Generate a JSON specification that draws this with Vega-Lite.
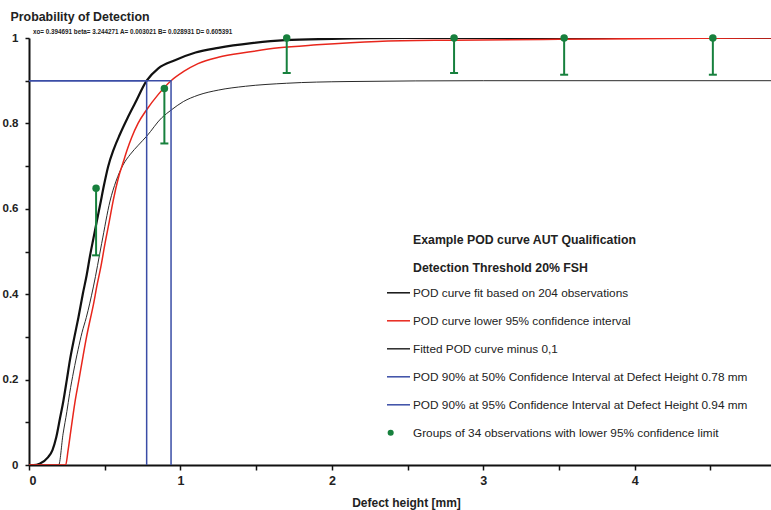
{
  "$schema": "https://vega.github.io/schema/vega-lite/v6.json",
  "width": 742,
  "height": 427,
  "autosize": {"type": "none"},
  "padding": {"left": 29, "top": 38, "right": 0, "bottom": 45},
  "background": "white",
  "title": {
    "text": "xo= 0.394691 beta= 3.244271  A= 0.003021 B= 0.028931 D= 0.605391",
    "anchor": "start", "frame": "group", "dx": 4, "dy": 28, "offset": 3,
    "fontSize": 6.3, "fontWeight": "bold", "font": "Liberation Sans", "color": "#222"
  },
  "datasets": {
    "curves": [
      {"series": "POD curve fit based on 204 observations", "x": 0, "p": 0},
      {"series": "POD curve fit based on 204 observations", "x": 0.03, "p": 0},
      {"series": "POD curve fit based on 204 observations", "x": 0.07, "p": 0.003},
      {"series": "POD curve fit based on 204 observations", "x": 0.125, "p": 0.018},
      {"series": "POD curve fit based on 204 observations", "x": 0.155, "p": 0.035},
      {"series": "POD curve fit based on 204 observations", "x": 0.18, "p": 0.065},
      {"series": "POD curve fit based on 204 observations", "x": 0.205, "p": 0.11},
      {"series": "POD curve fit based on 204 observations", "x": 0.227, "p": 0.15},
      {"series": "POD curve fit based on 204 observations", "x": 0.25, "p": 0.2},
      {"series": "POD curve fit based on 204 observations", "x": 0.27, "p": 0.245},
      {"series": "POD curve fit based on 204 observations", "x": 0.3, "p": 0.3},
      {"series": "POD curve fit based on 204 observations", "x": 0.326, "p": 0.345},
      {"series": "POD curve fit based on 204 observations", "x": 0.355, "p": 0.4},
      {"series": "POD curve fit based on 204 observations", "x": 0.381, "p": 0.445},
      {"series": "POD curve fit based on 204 observations", "x": 0.403, "p": 0.49},
      {"series": "POD curve fit based on 204 observations", "x": 0.425, "p": 0.53},
      {"series": "POD curve fit based on 204 observations", "x": 0.45, "p": 0.575},
      {"series": "POD curve fit based on 204 observations", "x": 0.47, "p": 0.61},
      {"series": "POD curve fit based on 204 observations", "x": 0.495, "p": 0.655},
      {"series": "POD curve fit based on 204 observations", "x": 0.522, "p": 0.698},
      {"series": "POD curve fit based on 204 observations", "x": 0.56, "p": 0.74},
      {"series": "POD curve fit based on 204 observations", "x": 0.6, "p": 0.774},
      {"series": "POD curve fit based on 204 observations", "x": 0.65, "p": 0.812},
      {"series": "POD curve fit based on 204 observations", "x": 0.7, "p": 0.847},
      {"series": "POD curve fit based on 204 observations", "x": 0.777, "p": 0.9},
      {"series": "POD curve fit based on 204 observations", "x": 0.854, "p": 0.929},
      {"series": "POD curve fit based on 204 observations", "x": 0.964, "p": 0.948},
      {"series": "POD curve fit based on 204 observations", "x": 1.1, "p": 0.966},
      {"series": "POD curve fit based on 204 observations", "x": 1.25, "p": 0.977},
      {"series": "POD curve fit based on 204 observations", "x": 1.47, "p": 0.988},
      {"series": "POD curve fit based on 204 observations", "x": 1.69, "p": 0.995},
      {"series": "POD curve fit based on 204 observations", "x": 2.0, "p": 0.998},
      {"series": "POD curve fit based on 204 observations", "x": 2.5, "p": 1.0},
      {"series": "POD curve fit based on 204 observations", "x": 4.9, "p": 1.0},

      {"series": "Fitted POD curve minus 0,1", "x": 0, "p": 0},
      {"series": "Fitted POD curve minus 0,1", "x": 0.196, "p": 0},
      {"series": "Fitted POD curve minus 0,1", "x": 0.225, "p": 0.073},
      {"series": "Fitted POD curve minus 0,1", "x": 0.25, "p": 0.125},
      {"series": "Fitted POD curve minus 0,1", "x": 0.268, "p": 0.167},
      {"series": "Fitted POD curve minus 0,1", "x": 0.295, "p": 0.22},
      {"series": "Fitted POD curve minus 0,1", "x": 0.324, "p": 0.27},
      {"series": "Fitted POD curve minus 0,1", "x": 0.35, "p": 0.31},
      {"series": "Fitted POD curve minus 0,1", "x": 0.378, "p": 0.345},
      {"series": "Fitted POD curve minus 0,1", "x": 0.425, "p": 0.417},
      {"series": "Fitted POD curve minus 0,1", "x": 0.48, "p": 0.519},
      {"series": "Fitted POD curve minus 0,1", "x": 0.535, "p": 0.618},
      {"series": "Fitted POD curve minus 0,1", "x": 0.575, "p": 0.665},
      {"series": "Fitted POD curve minus 0,1", "x": 0.62, "p": 0.702},
      {"series": "Fitted POD curve minus 0,1", "x": 0.67, "p": 0.728},
      {"series": "Fitted POD curve minus 0,1", "x": 0.722, "p": 0.749},
      {"series": "Fitted POD curve minus 0,1", "x": 0.777, "p": 0.77},
      {"series": "Fitted POD curve minus 0,1", "x": 0.876, "p": 0.813},
      {"series": "Fitted POD curve minus 0,1", "x": 0.938, "p": 0.831},
      {"series": "Fitted POD curve minus 0,1", "x": 1.019, "p": 0.851},
      {"series": "Fitted POD curve minus 0,1", "x": 1.116, "p": 0.866},
      {"series": "Fitted POD curve minus 0,1", "x": 1.25, "p": 0.878},
      {"series": "Fitted POD curve minus 0,1", "x": 1.43, "p": 0.887},
      {"series": "Fitted POD curve minus 0,1", "x": 1.7, "p": 0.894},
      {"series": "Fitted POD curve minus 0,1", "x": 2.1, "p": 0.898},
      {"series": "Fitted POD curve minus 0,1", "x": 3.0, "p": 0.9},
      {"series": "Fitted POD curve minus 0,1", "x": 4.9, "p": 0.9},

      {"series": "POD curve lower 95% confidence interval", "x": 0, "p": 0},
      {"series": "POD curve lower 95% confidence interval", "x": 0.242, "p": 0},
      {"series": "POD curve lower 95% confidence interval", "x": 0.258, "p": 0.034},
      {"series": "POD curve lower 95% confidence interval", "x": 0.28, "p": 0.09},
      {"series": "POD curve lower 95% confidence interval", "x": 0.302, "p": 0.144},
      {"series": "POD curve lower 95% confidence interval", "x": 0.33, "p": 0.2},
      {"series": "POD curve lower 95% confidence interval", "x": 0.357, "p": 0.255},
      {"series": "POD curve lower 95% confidence interval", "x": 0.38, "p": 0.3},
      {"series": "POD curve lower 95% confidence interval", "x": 0.403, "p": 0.339},
      {"series": "POD curve lower 95% confidence interval", "x": 0.425, "p": 0.375},
      {"series": "POD curve lower 95% confidence interval", "x": 0.447, "p": 0.417},
      {"series": "POD curve lower 95% confidence interval", "x": 0.475, "p": 0.465},
      {"series": "POD curve lower 95% confidence interval", "x": 0.502, "p": 0.519},
      {"series": "POD curve lower 95% confidence interval", "x": 0.53, "p": 0.57},
      {"series": "POD curve lower 95% confidence interval", "x": 0.557, "p": 0.621},
      {"series": "POD curve lower 95% confidence interval", "x": 0.59, "p": 0.672},
      {"series": "POD curve lower 95% confidence interval", "x": 0.623, "p": 0.71},
      {"series": "POD curve lower 95% confidence interval", "x": 0.65, "p": 0.74},
      {"series": "POD curve lower 95% confidence interval", "x": 0.678, "p": 0.767},
      {"series": "POD curve lower 95% confidence interval", "x": 0.72, "p": 0.8},
      {"series": "POD curve lower 95% confidence interval", "x": 0.777, "p": 0.832},
      {"series": "POD curve lower 95% confidence interval", "x": 0.854, "p": 0.868},
      {"series": "POD curve lower 95% confidence interval", "x": 0.938, "p": 0.9},
      {"series": "POD curve lower 95% confidence interval", "x": 1.019, "p": 0.921},
      {"series": "POD curve lower 95% confidence interval", "x": 1.116, "p": 0.94},
      {"series": "POD curve lower 95% confidence interval", "x": 1.25, "p": 0.955},
      {"series": "POD curve lower 95% confidence interval", "x": 1.45, "p": 0.967},
      {"series": "POD curve lower 95% confidence interval", "x": 1.65, "p": 0.977},
      {"series": "POD curve lower 95% confidence interval", "x": 1.9, "p": 0.984},
      {"series": "POD curve lower 95% confidence interval", "x": 2.3, "p": 0.992},
      {"series": "POD curve lower 95% confidence interval", "x": 2.8, "p": 0.995},
      {"series": "POD curve lower 95% confidence interval", "x": 3.5, "p": 0.997},
      {"series": "POD curve lower 95% confidence interval", "x": 4.2, "p": 0.999},
      {"series": "POD curve lower 95% confidence interval", "x": 4.9, "p": 1.0},

      {"series": "POD 90% at 50% Confidence Interval at Defect Height 0.78 mm", "x": 0, "p": 0.9, "i": 1},
      {"series": "POD 90% at 50% Confidence Interval at Defect Height 0.78 mm", "x": 0.777, "p": 0.9, "i": 2},
      {"series": "POD 90% at 50% Confidence Interval at Defect Height 0.78 mm", "x": 0.777, "p": 0, "i": 3},
      {"series": "POD 90% at 95% Confidence Interval at Defect Height 0.94 mm", "x": 0, "p": 0.9, "i": 1},
      {"series": "POD 90% at 95% Confidence Interval at Defect Height 0.94 mm", "x": 0.938, "p": 0.9, "i": 2},
      {"series": "POD 90% at 95% Confidence Interval at Defect Height 0.94 mm", "x": 0.938, "p": 0, "i": 3}
    ],
    "groups": [
      {"series": "Groups of 34 observations with lower 95% confidence limit", "x": 0.443, "p": 0.648, "lower": 0.491},
      {"series": "Groups of 34 observations with lower 95% confidence limit", "x": 0.894, "p": 0.882, "lower": 0.753},
      {"series": "Groups of 34 observations with lower 95% confidence limit", "x": 1.702, "p": 1.0, "lower": 0.918},
      {"series": "Groups of 34 observations with lower 95% confidence limit", "x": 2.807, "p": 1.0, "lower": 0.918},
      {"series": "Groups of 34 observations with lower 95% confidence limit", "x": 3.534, "p": 1.0, "lower": 0.914},
      {"series": "Groups of 34 observations with lower 95% confidence limit", "x": 4.516, "p": 1.0, "lower": 0.914}
    ]
  },
  "encoding": {
    "x": {
      "field": "x", "type": "quantitative", "title": "Defect height [mm]",
      "scale": {"domain": [0, 4.9], "nice": false, "zero": false},
      "axis": {
        "values": [0, 0.5, 1, 1.5, 2, 2.5, 3, 3.5, 4, 4.5],
        "labelExpr": "datum.value % 1 == 0 ? format(datum.value, 'd') : ''",
        "grid": false, "domainColor": "#111", "domainWidth": 2,
        "tickColor": "#111", "tickWidth": 1.5, "tickSize": 5,
        "labelFont": "Liberation Sans", "labelFontSize": 12.5, "labelFontWeight": "bold",
        "labelColor": "#222", "labelPadding": 4,
        "titleFont": "Liberation Sans", "titleFontSize": 12, "titleFontWeight": "bold",
        "titleColor": "#222", "titlePadding": 11, "titleX": 377
      }
    },
    "y": {
      "field": "p", "type": "quantitative", "title": "Probability of Detection",
      "scale": {"domain": [0, 1], "nice": false},
      "axis": {
        "values": [0, 0.1, 0.2, 0.3, 0.4, 0.5, 0.6, 0.7, 0.8, 0.9, 1],
        "labelExpr": "round(datum.value * 10) % 2 == 0 ? format(datum.value, '~g') : ''",
        "grid": false, "domainColor": "#111", "domainWidth": 2,
        "tickColor": "#111", "tickWidth": 1.5, "tickSize": 4,
        "labelFont": "Liberation Sans", "labelFontSize": 11.5, "labelFontWeight": "bold",
        "labelColor": "#222", "labelPadding": 7,
        "titleFont": "Liberation Sans", "titleFontSize": 12.4, "titleFontWeight": "bold", "titleColor": "#222",
        "titleAngle": 0, "titleAlign": "left", "titleBaseline": "middle",
        "titleX": -19, "titleY": -22
      }
    }
  },
  "layer": [
    {
      "data": {"values": [{}]},
      "mark": {"type": "rule", "color": "#222", "strokeWidth": 1.5},
      "encoding": {
        "x": {"datum": 0, "type": "quantitative"},
        "x2": {"datum": 4.9},
        "y": {"datum": 1, "type": "quantitative"}
      }
    },
    {
      "data": {"name": "curves"},
      "transform": [{"filter": "datum.series == 'POD curve fit based on 204 observations'"}],
      "mark": {"type": "line", "strokeWidth": 2.2, "clip": true, "interpolate": "monotone"},
      "encoding": {
        "stroke": {
          "field": "series", "type": "nominal",
          "title": ["Example POD curve AUT Qualification", "Detection Threshold 20% FSH"],
          "scale": {
            "domain": [
              "POD curve fit based on 204 observations",
              "POD curve lower 95% confidence interval",
              "Fitted POD curve minus 0,1",
              "POD 90% at 50% Confidence Interval at Defect Height 0.78 mm",
              "POD 90% at 95% Confidence Interval at Defect Height 0.94 mm",
              "Groups of 34 observations with lower 95% confidence limit"
            ],
            "range": ["#111111", "#e8261c", "#2a2a2a", "#3a4da6", "#3a4da6", "#17803d"]
          }
        }
      }
    },
    {
      "data": {"name": "curves"},
      "transform": [{"filter": "datum.series == 'Fitted POD curve minus 0,1'"}],
      "mark": {"type": "line", "strokeWidth": 1, "clip": true, "interpolate": "monotone"},
      "encoding": {"stroke": {"field": "series", "type": "nominal", "title": ["Example POD curve AUT Qualification", "Detection Threshold 20% FSH"]}}
    },
    {
      "data": {"name": "curves"},
      "transform": [{"filter": "datum.series == 'POD curve lower 95% confidence interval'"}],
      "mark": {"type": "line", "strokeWidth": 1.5, "clip": true, "interpolate": "monotone"},
      "encoding": {"stroke": {"field": "series", "type": "nominal", "title": ["Example POD curve AUT Qualification", "Detection Threshold 20% FSH"]}}
    },
    {
      "data": {"name": "curves"},
      "transform": [{"filter": "indexof(datum.series, 'POD 90%') == 0"}],
      "mark": {"type": "line", "strokeWidth": 1.5, "clip": true},
      "encoding": {
        "stroke": {"field": "series", "type": "nominal", "title": ["Example POD curve AUT Qualification", "Detection Threshold 20% FSH"]},
        "order": {"field": "i", "type": "quantitative"}
      }
    },
    {
      "data": {"name": "groups"},
      "mark": {"type": "point", "filled": true, "opacity": 0},
      "encoding": {
        "fill": {
          "field": "series", "type": "nominal",
          "title": ["Example POD curve AUT Qualification", "Detection Threshold 20% FSH"],
          "scale": {
            "domain": [
              "POD curve fit based on 204 observations",
              "POD curve lower 95% confidence interval",
              "Fitted POD curve minus 0,1",
              "POD 90% at 50% Confidence Interval at Defect Height 0.78 mm",
              "POD 90% at 95% Confidence Interval at Defect Height 0.94 mm",
              "Groups of 34 observations with lower 95% confidence limit"
            ],
            "range": ["#111111", "#e8261c", "#2a2a2a", "#3a4da6", "#3a4da6", "#17803d"]
          }
        },
        "shape": {
          "field": "series", "type": "nominal",
          "title": ["Example POD curve AUT Qualification", "Detection Threshold 20% FSH"],
          "scale": {
            "domain": [
              "POD curve fit based on 204 observations",
              "POD curve lower 95% confidence interval",
              "Fitted POD curve minus 0,1",
              "POD 90% at 50% Confidence Interval at Defect Height 0.78 mm",
              "POD 90% at 95% Confidence Interval at Defect Height 0.94 mm",
              "Groups of 34 observations with lower 95% confidence limit"
            ],
            "range": ["stroke", "stroke", "stroke", "stroke", "stroke", "M-0.88,0A0.2,0.2 0 1,1 -0.48,0A0.2,0.2 0 1,1 -0.88,0Z"]
          }
        }
      }
    },
    {
      "data": {"name": "groups"},
      "mark": {"type": "rule", "color": "#17803d", "strokeWidth": 2},
      "encoding": {"y2": {"field": "lower"}}
    },
    {
      "data": {"name": "groups"},
      "mark": {"type": "tick", "color": "#17803d", "orient": "horizontal", "size": 8, "thickness": 2, "opacity": 1},
      "encoding": {"y": {"field": "lower", "type": "quantitative", "title": "Probability of Detection"}}
    },
    {
      "data": {"name": "groups"},
      "mark": {"type": "circle", "color": "#17803d", "size": 56, "opacity": 1, "clip": false}
    }
  ],
  "config": {
    "view": {"stroke": null},
    "legend": {
      "orient": "none", "legendX": 384, "legendY": 196,
      "titleFont": "Liberation Sans", "titleFontSize": 12.3, "titleFontWeight": "bold",
      "titleColor": "#222", "titleLineHeight": 28, "titleLimit": 500, "titlePadding": 6,
      "labelFont": "Liberation Sans", "labelFontSize": 11.8, "labelColor": "#222",
      "labelLimit": 500, "labelOffset": 2, "symbolOffset": -27,
      "symbolType": "stroke", "symbolSize": 529, "symbolStrokeWidth": 1.5, "symbolOpacity": 1,
      "rowPadding": 8, "padding": 0
    }
  }
}
